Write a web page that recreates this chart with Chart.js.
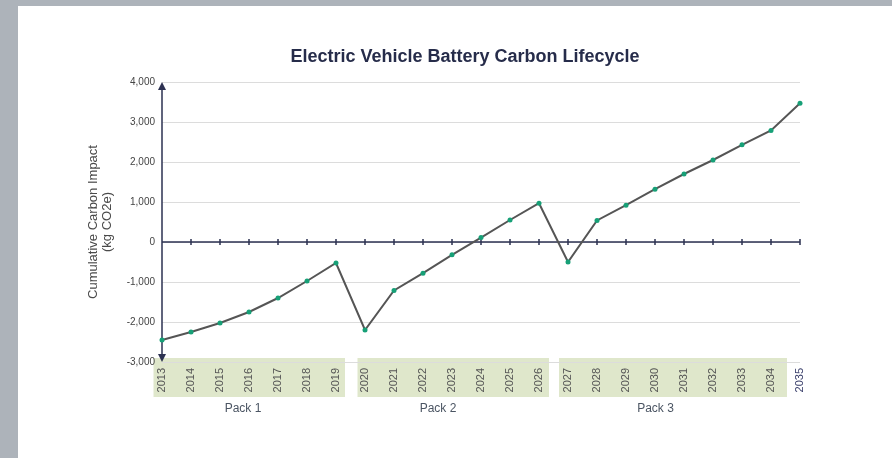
<!DOCTYPE html>
<html>
<head>
<meta charset="utf-8">
<script src="https://cdn.jsdelivr.net/npm/chart.js@4"></script>
<style>
  body { margin: 0; background: #fff; }
  .bar-top { position: absolute; left: 0; top: 0; width: 892px; height: 6px; background: #adb3ba; }
  .bar-left { position: absolute; left: 0; top: 0; width: 18px; height: 458px; background: #adb3ba; }
  .wrap { position: absolute; left: 18px; top: 6px; width: 874px; height: 452px; }
</style>
</head>
<body>
<div class="bar-top"></div>
<div class="bar-left"></div>
<div class="wrap"><canvas id="carbonChart"></canvas></div>
<script>
const years = ['2013', '2014', '2015', '2016', '2017', '2018', '2019', '2020', '2021', '2022', '2023', '2024',
  '2025', '2026', '2027', '2028', '2029', '2030', '2031', '2032', '2033', '2034', '2035'];
const cumulativeCarbon = [-2450, -2250, -2025, -1750, -1400, -975, -525, -2200, -1210, -780, -320, 110,
  550, 970, -500, 540, 920, 1320, 1700, 2050, 2430, 2790, 3470];
const packNames = ['Pack 1', 'Pack 2', 'Pack 3'];
const packStart = ['2013', '2020', '2027'];
const packEnd = ['2019', '2026', '2034'];

const chartTitle = 'Electric Vehicle Battery Carbon Lifecycle';
const axisColor = '#2d3252';
const fontFamily = 'Arial, "Liberation Sans", sans-serif';
// how far each green band reaches past its first / last year
const bandPadLeft = [8.5, 7.5, 9];
const bandPadRight = [9, 10, 16];
// pack names sit a little left of the middle of their years
const labelShift = [-6, -14, -14];

// green pack bands behind the year labels, pack names underneath, and the title
const packBands = {
  id: 'packBands',
  beforeDraw(chart) {
    const { ctx, scales: { x, y } } = chart;
    const top = y.getPixelForValue(-3000) - 4;
    ctx.save();
    ctx.fillStyle = '#dfe7cb';
    packNames.forEach((name, i) => {
      const x0 = x.getPixelForValue(years.indexOf(packStart[i])) - bandPadLeft[i];
      const x1 = x.getPixelForValue(years.indexOf(packEnd[i])) + bandPadRight[i];
      ctx.fillRect(x0, top, x1 - x0, 39);
    });
    ctx.restore();
  },
  afterDraw(chart) {
    const { ctx, chartArea: a, scales: { x, y } } = chart;
    const ly = y.getPixelForValue(-3000) + 47;
    ctx.save();
    ctx.fillStyle = '#4b5563';
    ctx.font = '12px ' + fontFamily;
    ctx.textAlign = 'center';
    ctx.textBaseline = 'middle';
    packNames.forEach((name, i) => {
      const x0 = x.getPixelForValue(years.indexOf(packStart[i]));
      const x1 = x.getPixelForValue(years.indexOf(packEnd[i]));
      ctx.fillText(name, (x0 + x1) / 2 + labelShift[i], ly);
    });
    ctx.fillStyle = '#262c4a';
    ctx.font = 'bold 18px ' + fontFamily;
    ctx.fillText(chartTitle, a.left + 303, a.top - 25);
    ctx.restore();
  }
};

// y axis with arrows at both ends, zero line with tick marks
const axisLines = {
  id: 'axisLines',
  beforeDatasetsDraw(chart) {
    const { ctx, chartArea: a, scales: { x, y } } = chart;
    const y0 = y.getPixelForValue(0);
    ctx.save();
    ctx.strokeStyle = axisColor;
    ctx.fillStyle = axisColor;
    ctx.lineWidth = 1.5;
    ctx.beginPath();
    ctx.moveTo(a.left, a.top + 2);
    ctx.lineTo(a.left, a.bottom - 2);
    ctx.moveTo(a.left, y0);
    ctx.lineTo(a.right, y0);
    years.forEach((yr, i) => {
      if (i === 0) return;
      const px = x.getPixelForValue(i);
      ctx.moveTo(px, y0 - 3);
      ctx.lineTo(px, y0 + 3);
    });
    ctx.stroke();
    ctx.beginPath();
    ctx.moveTo(a.left, a.top);
    ctx.lineTo(a.left - 4, a.top + 8);
    ctx.lineTo(a.left + 4, a.top + 8);
    ctx.closePath();
    ctx.moveTo(a.left, a.bottom);
    ctx.lineTo(a.left - 4, a.bottom - 8);
    ctx.lineTo(a.left + 4, a.bottom - 8);
    ctx.closePath();
    ctx.fill();
    ctx.restore();
  }
};

const ctx = document.getElementById('carbonChart');
const carbonChart = new Chart(ctx, {
  type: 'line',
  data: {
    labels: years,
    datasets: [{
      data: cumulativeCarbon,
      borderColor: '#555555',
      borderWidth: 2,
      tension: 0,
      pointRadius: 2.5,
      pointBorderWidth: 0,
      pointBackgroundColor: '#17a077'
    }]
  },
  options: {
    responsive: true,
    maintainAspectRatio: false,
    animation: false,
    layout: { padding: { left: 60, right: 92, top: 76, bottom: 0 } },
    plugins: {
      legend: { display: false },
      tooltip: { enabled: false },
      title: { display: false }
    },
    scales: {
      x: {
        offset: false,
        grid: { display: false, drawTicks: false },
        border: { display: false },
        ticks: {
          autoSkip: false,
          minRotation: 90,
          maxRotation: 90,
          padding: 6,
          color: (c) => c.index === years.length - 1 ? '#3a3f6b' : '#555555',
          font: { family: fontFamily, size: 11 }
        },
        afterFit(scale) { scale.height = 96; }
      },
      y: {
        min: -3000,
        max: 4000,
        grid: { color: '#dcdcdc', drawTicks: false },
        border: { display: false },
        ticks: {
          stepSize: 1000,
          padding: 7,
          color: '#444444',
          font: { family: fontFamily, size: 10 }
        },
        title: {
          display: true,
          text: ['Cumulative Carbon Impact', '(kg CO2e)'],
          color: '#4a4a4a',
          font: { family: fontFamily, size: 13, lineHeight: 1.1 },
          padding: { top: 8, bottom: 0 }
        },
        afterFit(scale) { scale.width = 84; }
      }
    }
  },
  plugins: [packBands, axisLines]
});
</script>
</body>
</html>
